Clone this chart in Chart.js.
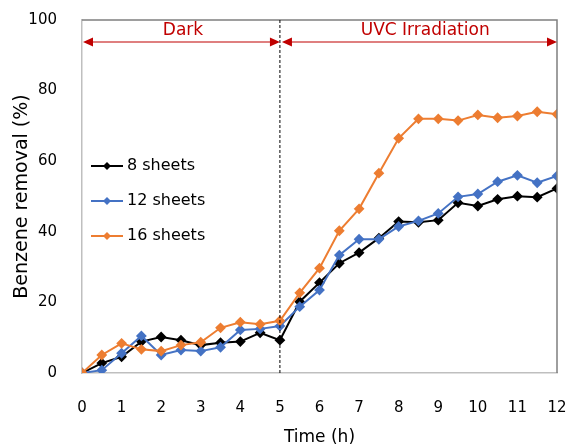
<!DOCTYPE html>
<html><head><meta charset="utf-8">
<script src="https://cdn.jsdelivr.net/npm/chart.js@4/dist/chart.umd.min.js"></script>
<style>html,body{margin:0;padding:0;background:#fff}#wrap{width:574px;height:448px}</style>
</head><body><div id="wrap"><canvas id="c" width="574" height="448"></canvas></div>
<script>
const times = [0,0.5,1,1.5,2,2.5,3,3.5,4,4.5,5,5.5,6,6.5,7,7.5,8,8.5,9,9.5,10,10.5,11,11.5,12];
const sheets8  = [0,2.8,4.6,8.9,10.2,9.3,7.9,8.6,8.9,11.4,9.3,20.2,25.6,31.1,34.1,38.2,42.9,42.7,43.3,48.2,47.3,49.2,50.1,49.8,52.3];
const sheets12 = [0,0.8,5.6,10.5,5.1,6.5,6.2,7.3,12.2,12.5,13.3,18.8,23.5,33.4,37.9,37.9,41.5,43.1,45.2,49.9,50.7,54.2,56.0,53.9,55.8];
const sheets16 = [0,5.1,8.4,6.7,6.2,7.9,8.7,12.8,14.4,13.8,14.8,22.7,29.7,40.3,46.5,56.6,66.5,72.0,72.0,71.5,73.1,72.3,72.8,74.0,73.3];
const seriesNames = ['8 sheets','12 sheets','16 sheets'];
const phaseLabels = ['Dark','UVC Irradiation'];
const phaseBounds = [0,5,12];
const xTicks = [0,1,2,3,4,5,6,7,8,9,10,11,12];
const yTicks = [0,20,40,60,80,100];

const FONT = 'DejaVu Sans';
const colors = ['#000000','#4472C4','#ED7D31'];
const seriesData = [sheets8, sheets12, sheets16];

const datasets = seriesData.map((arr,i)=>({
  label: seriesNames[i],
  data: arr.map((v,j)=>({x:times[j], y:v})),
  borderColor: colors[i], backgroundColor: colors[i],
  borderWidth: 2, pointStyle: 'rectRot', pointRadius: 4, pointHoverRadius: 4,
  tension: 0, order: 3-i
}));

const overlay = {
  id: 'overlay',
  afterDatasetsDraw(chart){
    const ctx = chart.ctx, xs = chart.scales.x, ys = chart.scales.y, a = chart.chartArea;
    ctx.save();
    ctx.strokeStyle = '#7f7f7f'; ctx.lineWidth = 1.5;
    ctx.beginPath(); ctx.moveTo(a.left, a.top); ctx.lineTo(a.right, a.top); ctx.lineTo(a.right, a.bottom); ctx.stroke();
    const xd = xs.getPixelForValue(phaseBounds[1]);
    ctx.strokeStyle = '#000'; ctx.lineWidth = 1; ctx.setLineDash([3,2]);
    ctx.beginPath(); ctx.moveTo(xd, a.top); ctx.lineTo(xd, a.bottom); ctx.stroke();
    ctx.setLineDash([]);
    const red = '#C00000';
    const ay = a.top + 22;
    function arrow(x1, x2){
      ctx.strokeStyle = red; ctx.fillStyle = red; ctx.lineWidth = 1.2;
      ctx.beginPath(); ctx.moveTo(x1+8, ay); ctx.lineTo(x2-8, ay); ctx.stroke();
      ctx.beginPath(); ctx.moveTo(x1, ay); ctx.lineTo(x1+10, ay-4.5); ctx.lineTo(x1+10, ay+4.5); ctx.closePath(); ctx.fill();
      ctx.beginPath(); ctx.moveTo(x2, ay); ctx.lineTo(x2-10, ay-4.5); ctx.lineTo(x2-10, ay+4.5); ctx.closePath(); ctx.fill();
    }
    const p0 = xs.getPixelForValue(phaseBounds[0]), p1 = xs.getPixelForValue(phaseBounds[1]), p2 = xs.getPixelForValue(phaseBounds[2]);
    arrow(p0+1, p1);
    arrow(p1+2, p2);
    ctx.font = '17px "' + FONT + '"'; ctx.fillStyle = red; ctx.textAlign = 'center'; ctx.textBaseline = 'middle';
    ctx.fillText(phaseLabels[0], (p0+p1)/2 + 2, a.top + 11);
    ctx.fillText(phaseLabels[1], xs.getPixelForValue(8.67), a.top + 11);
    ctx.font = '16px "' + FONT + '"'; ctx.textAlign = 'left';
    const ly = [166, 201, 236];
    seriesNames.forEach((n,i)=>{
      ctx.strokeStyle = colors[i]; ctx.fillStyle = colors[i]; ctx.lineWidth = 2;
      ctx.beginPath(); ctx.moveTo(91, ly[i]); ctx.lineTo(123, ly[i]); ctx.stroke();
      ctx.beginPath(); ctx.moveTo(107, ly[i]-4); ctx.lineTo(111, ly[i]); ctx.lineTo(107, ly[i]+4); ctx.lineTo(103, ly[i]); ctx.closePath(); ctx.fill();
      ctx.fillStyle = '#000';
      ctx.fillText(n, 127, ly[i]);
    });
    ctx.restore();
  }
};

new Chart(document.getElementById('c'), {
  type: 'line',
  data: { datasets },
  options: {
    responsive: false, animation: false,
    layout: { padding: { top: 20, right: 17, left: 0, bottom: 0 } },
    plugins: { legend: { display: false }, tooltip: { enabled: false } },
    scales: {
      x: {
        type: 'linear', min: 0, max: 12,
        afterBuildTicks: s => { s.ticks = xTicks.map(v=>({value:v})); },
        afterFit: s => { s.height = 75; s.paddingLeft = 0; s.paddingRight = 0; },
        grid: { display: false, drawTicks: false },
        border: { display: true, color: '#bfbfbf', width: 1.5 },
        ticks: { padding: 26, color: '#000', font: { family: FONT, size: 15 }, maxRotation: 0 },
        title: { display: true, text: 'Time (h)', color: '#000', font: { family: FONT, size: 17 }, padding: { top: 0, bottom: 0 } }
      },
      y: {
        min: 0, max: 100,
        afterBuildTicks: s => { s.ticks = yTicks.map(v=>({value:v})); },
        afterFit: s => { s.width = 82; s.paddingTop = 0; s.paddingBottom = 0; },
        grid: { display: false, drawTicks: false },
        border: { display: true, color: '#bfbfbf', width: 1.5 },
        ticks: { padding: 25, color: '#000', font: { family: FONT, size: 15 } },
        title: { display: true, text: 'Benzene removal (%)', color: '#000', font: { family: FONT, size: 19 }, padding: { top: 11, bottom: 0 } }
      }
    }
  },
  plugins: [overlay]
});
</script></body></html>
